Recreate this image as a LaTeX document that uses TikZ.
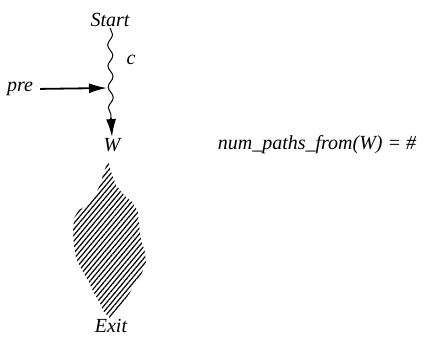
\documentclass[tikz,border=0pt]{standalone}
\usepackage{fontspec}
\setmainfont{Liberation Serif}
\usetikzlibrary{positioning,arrows.meta,decorations.pathmorphing,patterns.meta}

\begin{document}
\begin{tikzpicture}[x=1bp,y=-1bp,
        lbl/.style = {
            font=\fontsize{20bp}{24bp}\selectfont\itshape,
            inner sep=1bp
        },
        wave/.style = {
            decorate,
            decoration={snake, amplitude=2.5bp, segment length=21bp},
            line width=1bp
        },
        arr/.style = {-{Latex[length=18bp,width=10bp]}, line width=1.8bp},
        hatch/.style = {pattern={Lines[angle=50,distance=3.8bp,line width=1.2bp]}}]
    \useasboundingbox (0,0) rectangle (425,341);

    \node[lbl] (s) at (110,20) {Start};
    \node[lbl] (c) at (131,60) {c};
    \node[lbl] (p) at (20,89) {pre};
    \node[lbl] (w) at (112,145) {W};
    \node[lbl] (e) at (111,326) {Exit};
    \node[lbl] (f) at (317,145) {num\_paths\_from(W) = \#};

    \coordinate (m) at (111,118);
    \coordinate (j) at (107,88);

    \draw[wave] (s.south) -- (m);
    \draw[arr] (m) -- (w.north);
    \draw[arr, shorten <=6bp] (p.east) -- (j);

    % region below W
    \path[hatch] (108,160) -- (111,172) -- (116,185) -- (124,195) -- (133,203)
        -- (138,212) -- (139,225) -- (141,240) -- (145,252) -- (146,263)
        -- (141,275) -- (134,285) -- (128,296) -- (121,305) -- (115,314)
        -- (110,318) -- (104,312) -- (100,303) -- (94,293) -- (89,282)
        -- (82,270) -- (76,258) -- (74,245) -- (73,232) -- (74,218)
        -- (79,210) -- (87,205) -- (95,195) -- (100,185) -- (104,172) -- cycle;
\end{tikzpicture}
\end{document}
